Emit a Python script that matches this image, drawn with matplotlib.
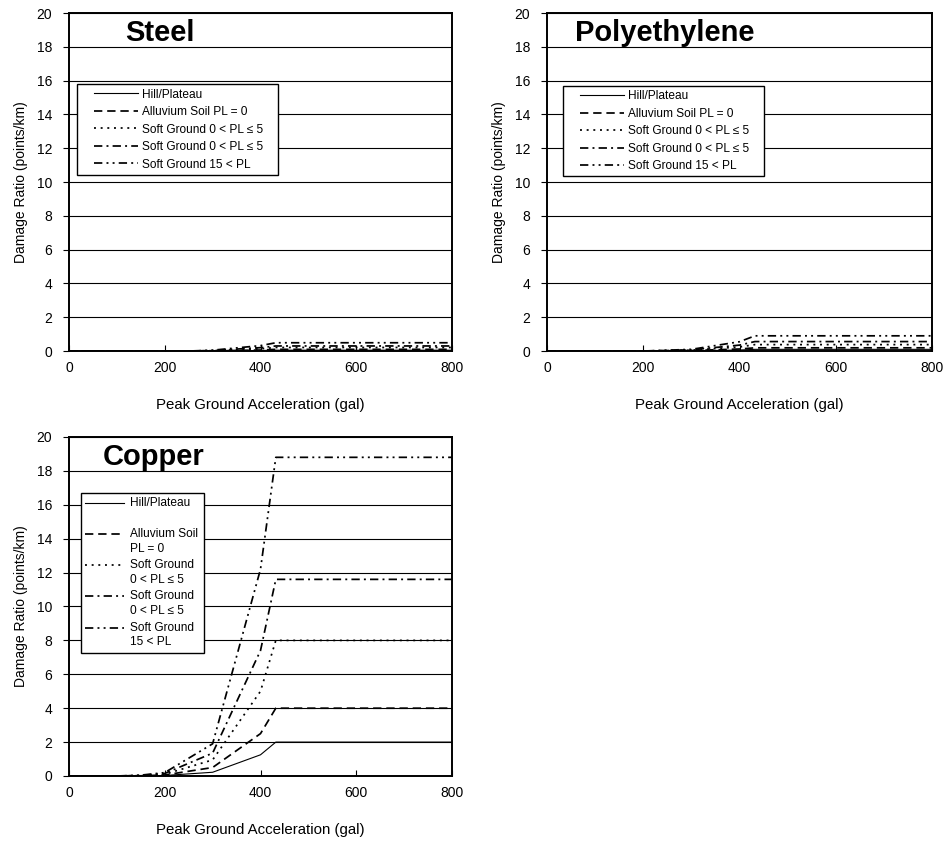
import numpy as np
import matplotlib
matplotlib.use('Agg')
import matplotlib.pyplot as plt
from matplotlib.legend_handler import HandlerLine2D
from matplotlib.offsetbox import DrawingArea

plt.rcParams['font.family'] = ['Liberation Sans', 'DejaVu Sans']
plt.rcParams['lines.scale_dashes'] = False

# series labels (short form for the steel / polyethylene panels)
labels_short = ['Hill/Plateau', 'Alluvium Soil PL = 0', 'Soft Ground 0 < PL \u2264 5',
                'Soft Ground 0 < PL \u2264 5', 'Soft Ground 15 < PL']
labels_wrap = ['Hill/Plateau\n', 'Alluvium Soil\nPL = 0', 'Soft Ground\n0 < PL \u2264 5',
               'Soft Ground\n0 < PL \u2264 5', 'Soft Ground\n15 < PL']

# peak ground acceleration (gal)
pga_steel = [0, 250, 300, 400, 432, 800]
steel_hill = [0, 0, 0.005, 0.03, 0.05, 0.05]
steel_alluv = [0, 0, 0.01, 0.06, 0.1, 0.1]
steel_soft1 = [0, 0, 0.02, 0.13, 0.21, 0.21]
steel_soft2 = [0, 0, 0.03, 0.2, 0.3, 0.3]
steel_soft3 = [0, 0, 0.05, 0.32, 0.49, 0.49]

pga_poly = [0, 200, 300, 400, 432, 800]
poly_hill = [0, 0, 0.01, 0.06, 0.1, 0.1]
poly_alluv = [0, 0, 0.03, 0.12, 0.19, 0.19]
poly_soft1 = [0, 0, 0.05, 0.24, 0.38, 0.38]
poly_soft2 = [0, 0, 0.07, 0.35, 0.56, 0.56]
poly_soft3 = [0, 0, 0.1, 0.55, 0.9, 0.9]

pga_copper = [0, 100, 150, 200, 300, 400, 432, 800]
copper_hill = [0, 0, 0.0, 0.03, 0.22, 1.25, 2.0, 2.0]
copper_alluv = [0, 0, 0.01, 0.06, 0.5, 2.5, 4.0, 4.0]
copper_soft1 = [0, 0, 0.02, 0.1, 0.95, 5.0, 8.0, 8.0]
copper_soft2 = [0, 0, 0.03, 0.15, 1.35, 7.4, 11.6, 11.6]
copper_soft3 = [0, 0, 0.05, 0.2, 1.9, 12.2, 18.8, 18.8]

styles = [
    dict(linestyle='-', lw=0.8),
    dict(linestyle=(0, (6, 3.5)), lw=1.25),
    dict(linestyle=(0, (1.4, 3.4)), lw=1.25),
    dict(linestyle=(0, (6, 3, 1.4, 3)), lw=1.25),
    dict(linestyle=(0, (6, 3, 1.4, 3, 1.4, 3)), lw=1.25),
]


class OffsetLineHandler(HandlerLine2D):
    """Line handle that can be lifted to the first text line and shortened on the left."""
    def __init__(self, lift=0.0, lead=0.0, **kw):
        super().__init__(**kw)
        self.lift = lift
        self.lead = lead

    def create_artists(self, legend, orig_handle, xdescent, ydescent, width, height, fontsize, trans):
        arts = super().create_artists(legend, orig_handle, xdescent, ydescent, width, height, fontsize, trans)
        for a in arts:
            y = np.asarray(a.get_ydata(), float) + self.lift
            a.set_data([-xdescent + self.lead, -xdescent + width], [y[0], y[0]])
        return arts


def draw_panel(ax, x, series, title, title_x, labels, leg_anchor, lift, lead, hlen,
               textpad, rowgap, rpad):
    lines = []
    for y, st in zip(series, styles):
        ln, = ax.plot(x, y, color='black', **st)
        lines.append(ln)
    ax.set_xlim(0, 800)
    ax.set_ylim(0, 20)
    ax.set_xticks([0, 200, 400, 600, 800])
    ax.set_yticks(np.arange(0, 21, 2))
    ax.yaxis.grid(True, color='black', lw=0.8)
    ax.set_axisbelow(True)
    ax.tick_params(axis='x', direction='in', length=4, labelsize=10, pad=7)
    ax.tick_params(axis='y', direction='out', length=4, labelsize=10, pad=8)
    for s in ax.spines.values():
        s.set_linewidth(1.4)
        s.set_color('black')
    ax.set_xlabel('Peak Ground Acceleration (gal)', fontsize=10.8, labelpad=17)
    ax.set_ylabel('Damage Ratio (points/km)', fontsize=10, labelpad=6)
    ax.text(title_x, 0.94, title, transform=ax.transAxes, fontsize=21,
            fontweight='bold', ha='left', va='center')
    hmap = {ln: OffsetLineHandler(lift=lift, lead=lead) for ln in lines}
    leg = ax.legend(lines, labels, loc='upper left', bbox_to_anchor=leg_anchor,
                    borderaxespad=0, fontsize=8.6, frameon=True, fancybox=False,
                    framealpha=1, edgecolor='black', handlelength=hlen,
                    handletextpad=textpad, labelspacing=rowgap, borderpad=0.35,
                    columnspacing=0, handler_map=hmap)
    leg.get_frame().set_linewidth(1.0)
    # extra blank space on the right side of the legend box
    leg._legend_handle_box._children.append(DrawingArea(width=rpad, height=0))
    return leg


fig = plt.figure(figsize=(9.49, 8.41), dpi=100)
ax1 = fig.add_axes([0.0727, 0.5826, 0.4036, 0.4019])
ax2 = fig.add_axes([0.5764, 0.5826, 0.4057, 0.4019])
ax3 = fig.add_axes([0.0727, 0.0773, 0.4036, 0.4031])

draw_panel(ax1, pga_steel, [steel_hill, steel_alluv, steel_soft1, steel_soft2, steel_soft3],
           'Steel', 0.146, labels_short, (0.02, 0.789), 0.0, 9.4, 4.75, 0.33, 0.46, 8.0)
draw_panel(ax2, pga_poly, [poly_hill, poly_alluv, poly_soft1, poly_soft2, poly_soft3],
           'Polyethylene', 0.073, labels_short, (0.041, 0.784), 0.0, 9.4, 4.75, 0.33, 0.46, 8.0)
leg3 = draw_panel(ax3, pga_copper, [copper_hill, copper_alluv, copper_soft1, copper_soft2, copper_soft3],
                  'Copper', 0.089, labels_wrap, (0.0305, 0.836), 5.6, 0.0, 3.3, 0.5, 0.38, 1.0)
for t in leg3.get_texts():
    t.set_linespacing(1.3)

fig.savefig('out.png', dpi=100)
